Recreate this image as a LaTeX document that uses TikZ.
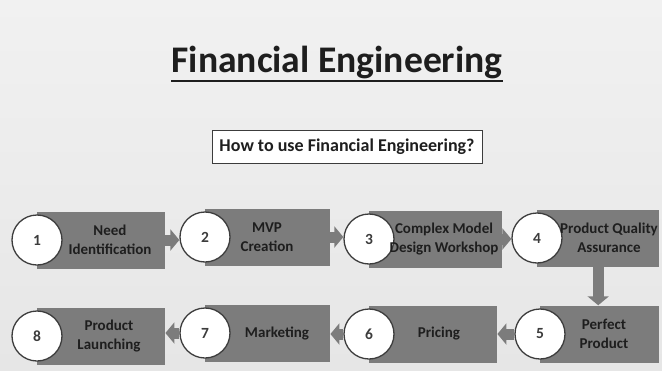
\documentclass[tikz,border=0pt]{standalone}
\usepackage{fontspec}
\setmainfont{Carlito}
\usetikzlibrary{arrows.meta}
\pgfdeclarelayer{back}
\pgfsetlayers{back,main}
\definecolor{bgtop}{HTML}{F1F1F1}
\definecolor{bgbot}{HTML}{E6E6E6}
\definecolor{boxgray}{HTML}{7C7C7C}
\definecolor{txtdark}{HTML}{1E1E1E}
\definecolor{ringgray}{HTML}{3C3C3C}
\tikzset{
  fbox/.style={fill=boxgray, draw=none, minimum height=57pt, inner sep=0pt, anchor=west},
  fcirc/.style={circle, fill=white, draw=ringgray, line width=1.3pt, minimum size=50pt, inner sep=0pt,
    font=\bfseries\fontsize{15.5}{18}\selectfont, text=ringgray},
  ftext/.style={align=center, inner sep=0pt, text=txtdark, font=\bfseries\fontsize{15}{19.5}\selectfont},
  farrow/.style={draw=boxgray, line width=11pt, -{Triangle[length=9pt,width=21pt]}}
}
\newcommand\fstep[7]{%
  \node[fbox, minimum width={#5-#3}] (r#1) at (#3,#4) {};
  \node[fcirc] (c#1) at (#3,#4) {#2};
  \node[ftext] (t#1) at (#6,#4) {#7};
}
\begin{document}
\begin{tikzpicture}[x=1pt,y=-1pt]
\begin{pgfonlayer}{back}
\shade[top color=bgtop, bottom color=bgbot] (0,0) rectangle (662,370);
\end{pgfonlayer}
\useasboundingbox (0,0) rectangle (662,370);
% title
\node[inner sep=0pt, anchor=base, text=txtdark, font=\bfseries\fontsize{37.6}{42}\selectfont] (title) at (337,72) {Financial Engineering};
\draw[txtdark, line width=2.4pt] ([yshift=-9pt]title.base west) -- ([yshift=-9pt]title.base east);
\node[draw=ringgray, fill=white, line width=0.8pt, minimum width=270pt, minimum height=33pt, inner sep=0pt,
  text=txtdark, font=\bfseries\fontsize{18}{20}\selectfont] (sub) at (347,146.5) {How to use Financial Engineering?};
% steps
\fstep{1}{1}{37}{240}{165}{110}{Need\\Identification}
\fstep{2}{2}{205}{237}{330}{267}{MVP\\Creation}
\fstep{3}{3}{369}{239}{502}{444}{Complex Model\\Design Workshop}
\fstep{4}{4}{537}{238}{659}{609}{Product Quality\\Assurance}
\fstep{5}{5}{540}{334}{659}{604}{Perfect\\Product}
\fstep{6}{6}{369}{334}{497}{439}{Pricing}
\fstep{7}{7}{205}{333}{330}{277}{Marketing}
\fstep{8}{8}{37}{336}{165}{109}{Product\\Launching}
% arrows
\begin{pgfonlayer}{back}
\draw[farrow] (r1.east) -- (r1.east -| c2.west);
\draw[farrow] (r2.east) -- (r2.east -| c3.west);
\draw[farrow] (r3.east) -- (r3.east -| c4.west);
\draw[farrow] (r4.south) -- (r4.south |- r5.north);
\draw[farrow] (c5.west) -- (c5.west -| r6.east);
\draw[farrow] (c6.west) -- (c6.west -| r7.east);
\draw[farrow] (c7.west) -- (c7.west -| r8.east);
\end{pgfonlayer}
\end{tikzpicture}
\end{document}
